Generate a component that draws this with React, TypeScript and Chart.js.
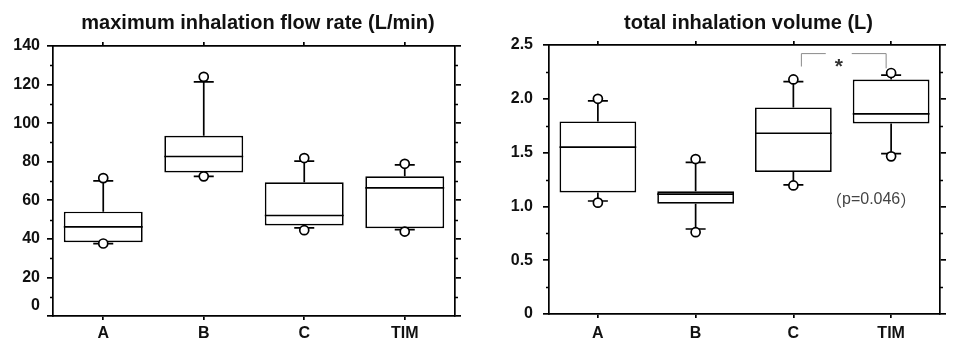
import React, { useEffect, useRef } from 'react';
import { Chart, registerables } from 'chart.js';

Chart.register(...registerables);

// ---------------- data ----------------
const CATEGORIES = ['A', 'B', 'C', 'TIM'];

// left panel: maximum inhalation flow rate
const FLOW_TITLE = 'maximum inhalation flow rate (L/min)';
const FLOW_TICKS = [0, 20, 40, 60, 80, 100, 120, 140];
const FLOW_TICK_LABELS = ['0', '20', '40', '60', '80', '100', '120', '140'];
const FLOW_MINOR_TICKS = [10, 30, 50, 70, 90, 110, 130];
const FLOW_MAX_POINT = [71.5, 124.0, 81.9, 78.9];
const FLOW_WHISKER_HIGH = [70.1, 121.4, 80.3, 78.4];
const FLOW_Q3 = [54.1, 93.4, 69.3, 72.4];
const FLOW_MEDIAN = [46.2, 82.7, 52.1, 66.4];
const FLOW_Q1 = [38.3, 74.4, 46.9, 45.5];
const FLOW_WHISKER_LOW = [37.5, 72.4, 45.7, 44.8];
const FLOW_MIN_POINT = [37.6, 72.4, 44.5, 43.8];

// right panel: total inhalation volume
const VOL_TITLE = 'total inhalation volume (L)';
const VOL_TICKS = [0, 0.5, 1.0, 1.5, 2.0, 2.5];
const VOL_TICK_LABELS = ['0', '0.5', '1.0', '1.5', '2.0', '2.5'];
const VOL_MINOR_TICKS = [0.25, 0.75, 1.25, 1.75, 2.25];
const VOL_MAX_POINT = [2.0, 1.44, 2.18, 2.24];
const VOL_WHISKER_HIGH = [1.98, 1.41, 2.16, 2.22];
const VOL_Q3 = [1.79, 1.14, 1.92, 2.18];
const VOL_MEDIAN = [1.55, 1.115, 1.68, 1.86];
const VOL_Q1 = [1.13, 1.025, 1.32, 1.77];
const VOL_WHISKER_LOW = [1.05, 0.79, 1.2, 1.49];
const VOL_MIN_POINT = [1.035, 0.76, 1.195, 1.465];

// significance annotation (right panel)
const SIG_FROM = 'C';
const SIG_TO = 'TIM';
const SIG_TOP = 2.42;
const SIG_LEG_LEFT = 2.3;
const SIG_LEG_RIGHT = 2.283;
const SIG_MARK = '*';
const P_OPEN = '（';
const P_BODY = 'p=0.046';
const P_CLOSE = '）';
const P_NOTE_VALUE = 1.06;

// ---------------- style ----------------
const FONT = '"Liberation Sans", Arial, Helvetica, sans-serif';
const NOTE_FONT = `16px ${FONT}`;
const PAREN_FONT = '16px "Noto Sans CJK JP", "Noto Sans CJK SC", sans-serif';
const INK = '#111';
const LINE_W = 1.7;
const MAJOR_TICK = 6;
const MINOR_TICK = 3;
const X_TICK = 4;
const CAP_HALF = 10;
const HEIGHT = 355;

interface Spec {
  title: string;
  ticks: number[];
  tickLabels: string[];
  minorTicks: number[];
  maxPt: number[];
  whiskerHigh: number[];
  q3: number[];
  median: number[];
  q1: number[];
  whiskerLow: number[];
  minPt: number[];
  bracket?: boolean;
}

interface Layout {
  left: number;
  width: number;
  axisLeft: number;
  axisRight: number;
  axisTop: number;
  axisBottom: number;
  yPad: number;
  xPad: number;
  zeroLift: number;
  titleBase: number;
}

const FLOW_SPEC: Spec = {
  title: FLOW_TITLE,
  ticks: FLOW_TICKS,
  tickLabels: FLOW_TICK_LABELS,
  minorTicks: FLOW_MINOR_TICKS,
  maxPt: FLOW_MAX_POINT,
  whiskerHigh: FLOW_WHISKER_HIGH,
  q3: FLOW_Q3,
  median: FLOW_MEDIAN,
  q1: FLOW_Q1,
  whiskerLow: FLOW_WHISKER_LOW,
  minPt: FLOW_MIN_POINT,
};

const VOL_SPEC: Spec = {
  title: VOL_TITLE,
  ticks: VOL_TICKS,
  tickLabels: VOL_TICK_LABELS,
  minorTicks: VOL_MINOR_TICKS,
  maxPt: VOL_MAX_POINT,
  whiskerHigh: VOL_WHISKER_HIGH,
  q3: VOL_Q3,
  median: VOL_MEDIAN,
  q1: VOL_Q1,
  whiskerLow: VOL_WHISKER_LOW,
  minPt: VOL_MIN_POINT,
  bracket: true,
};

const FLOW_LAYOUT: Layout = {
  left: 0, width: 483, axisLeft: 53, axisRight: 28, axisTop: 46, axisBottom: 39,
  yPad: 7, xPad: 4, zeroLift: 10, titleBase: 28.5,
};
const VOL_LAYOUT: Layout = {
  left: 483, width: 484, axisLeft: 66, axisRight: 27, axisTop: 45, axisBottom: 41,
  yPad: 10, xPad: 6, zeroLift: 0, titleBase: 29,
};

function makeDecor(spec: Spec, layout: Layout) {
  return {
    id: 'boxDecor',
    beforeDatasetsDraw(chart: any) {
      const { ctx } = chart;
      const xs = chart.scales.x;
      const ys = chart.scales.y;
      ctx.save();
      ctx.strokeStyle = '#000';
      ctx.lineWidth = LINE_W;
      CATEGORIES.forEach((_, i) => {
        const px = xs.getPixelForValue(i);
        const pairs = [
          [spec.q3[i], spec.whiskerHigh[i]],
          [spec.q1[i], spec.whiskerLow[i]],
        ];
        pairs.forEach(([from, to]) => {
          const a = ys.getPixelForValue(from);
          const b = ys.getPixelForValue(to);
          ctx.beginPath();
          ctx.moveTo(px, a);
          ctx.lineTo(px, b);
          ctx.moveTo(px - CAP_HALF, b);
          ctx.lineTo(px + CAP_HALF, b);
          ctx.stroke();
        });
      });
      ctx.restore();
    },
    afterDatasetDraw(chart: any, args: any) {
      if (args.meta.type !== 'bar') return;
      const { ctx } = chart;
      const ys = chart.scales.y;
      ctx.save();
      ctx.strokeStyle = '#000';
      ctx.lineWidth = LINE_W;
      args.meta.data.forEach((el: any, i: number) => {
        const p = el.getProps(['x', 'width'], true);
        const py = ys.getPixelForValue(spec.median[i]);
        ctx.beginPath();
        ctx.moveTo(p.x - p.width / 2, py);
        ctx.lineTo(p.x + p.width / 2, py);
        ctx.stroke();
      });
      ctx.restore();
    },
    afterDraw(chart: any) {
      const { ctx, chartArea } = chart;
      const xs = chart.scales.x;
      const ys = chart.scales.y;
      ctx.save();
      // minor ticks on both vertical borders
      ctx.strokeStyle = '#000';
      ctx.lineWidth = LINE_W;
      spec.minorTicks.forEach((v) => {
        const py = Math.round(ys.getPixelForValue(v)) + 0.5;
        ctx.beginPath();
        ctx.moveTo(chartArea.left - MINOR_TICK, py);
        ctx.lineTo(chartArea.left, py);
        ctx.moveTo(chartArea.right, py);
        ctx.lineTo(chartArea.right + MINOR_TICK, py);
        ctx.stroke();
      });
      // title
      ctx.fillStyle = INK;
      ctx.font = `bold 20px ${FONT}`;
      ctx.textAlign = 'center';
      ctx.textBaseline = 'alphabetic';
      ctx.fillText(spec.title, (chartArea.left + chartArea.right) / 2 + 4, layout.titleBase);
      // lifted zero label
      if (layout.zeroLift > 0) {
        ctx.font = `bold 16px ${FONT}`;
        ctx.textAlign = 'right';
        ctx.textBaseline = 'middle';
        ctx.fillText(
          spec.tickLabels[spec.ticks.indexOf(0)],
          chartArea.left - MAJOR_TICK - layout.yPad,
          ys.getPixelForValue(0) - layout.zeroLift,
        );
      }
      // significance bracket and p-value
      if (spec.bracket) {
        const xa = xs.getPixelForValue(CATEGORIES.indexOf(SIG_FROM)) + 8;
        const xb = xs.getPixelForValue(CATEGORIES.indexOf(SIG_TO)) - 5;
        const yt = ys.getPixelForValue(SIG_TOP);
        const yl = ys.getPixelForValue(SIG_LEG_LEFT);
        const yr = ys.getPixelForValue(SIG_LEG_RIGHT);
        const gc = (xa + xb) / 2 - 5;
        ctx.strokeStyle = '#8a8a8a';
        ctx.lineWidth = 1;
        ctx.beginPath();
        ctx.moveTo(xa, yl);
        ctx.lineTo(xa, yt);
        ctx.lineTo(gc - 13, yt);
        ctx.moveTo(gc + 13, yt);
        ctx.lineTo(xb, yt);
        ctx.lineTo(xb, yr);
        ctx.stroke();
        ctx.fillStyle = '#333';
        ctx.font = `bold 21px ${FONT}`;
        ctx.textAlign = 'center';
        ctx.textBaseline = 'alphabetic';
        ctx.fillText(SIG_MARK, gc, yt + 19.5);
        // p-value note: full-width parentheses around the value
        ctx.fillStyle = '#444';
        ctx.textBaseline = 'middle';
        ctx.textAlign = 'left';
        ctx.font = PAREN_FONT;
        const wo = ctx.measureText(P_OPEN).width;
        const wc = ctx.measureText(P_CLOSE).width;
        ctx.font = NOTE_FONT;
        const wb = ctx.measureText(P_BODY).width;
        const cx = xs.getPixelForValue(CATEGORIES.indexOf(SIG_TO)) - 20;
        const cy = ys.getPixelForValue(P_NOTE_VALUE);
        let x0 = cx - (wo + wb + wc) / 2;
        ctx.font = PAREN_FONT;
        ctx.fillText(P_OPEN, x0, cy);
        x0 += wo;
        ctx.font = NOTE_FONT;
        ctx.fillText(P_BODY, x0, cy);
        x0 += wb;
        ctx.font = PAREN_FONT;
        ctx.fillText(P_CLOSE, x0, cy);
      }
      ctx.restore();
    },
  };
}

function buildConfig(spec: Spec, layout: Layout): any {
  const yMin = spec.ticks[0];
  const yMax = spec.ticks[spec.ticks.length - 1];
  const gridX = {
    drawOnChartArea: false,
    drawTicks: true,
    tickLength: X_TICK,
    color: '#000',
    tickColor: '#000',
    lineWidth: LINE_W,
    tickWidth: LINE_W,
    offset: false,
  };
  const gridY = { ...gridX, tickLength: MAJOR_TICK };
  const border = { display: true, color: '#000', width: LINE_W };
  const setTicks = (s: any) => {
    s.ticks = spec.ticks.map((v) => ({ value: v }));
  };
  const circle = {
    type: 'line',
    showLine: false,
    pointRadius: 4.5,
    pointHoverRadius: 4.5,
    pointBackgroundColor: '#fff',
    pointBorderColor: '#000',
    pointBorderWidth: LINE_W,
    order: 0,
    xAxisID: 'x',
    yAxisID: 'y',
  };
  return {
    type: 'bar',
    data: {
      labels: CATEGORIES,
      datasets: [
        { ...circle, label: 'max', data: spec.maxPt },
        { ...circle, label: 'min', data: spec.minPt },
        {
          type: 'bar',
          label: 'IQR',
          data: spec.q1.map((v, i) => [v, spec.q3[i]]),
          backgroundColor: '#fff',
          borderColor: '#000',
          borderWidth: LINE_W,
          borderSkipped: false,
          barPercentage: 0.785,
          categoryPercentage: 1,
          order: 1,
          xAxisID: 'x',
          yAxisID: 'y',
        },
      ],
    },
    options: {
      responsive: false,
      animation: false,
      events: [],
      devicePixelRatio: 1,
      layout: { padding: 0 },
      plugins: { legend: { display: false }, tooltip: { enabled: false }, title: { display: false } },
      scales: {
        x: {
          type: 'category',
          position: 'bottom',
          offset: true,
          grid: gridX,
          border,
          ticks: {
            color: INK,
            font: { family: FONT, size: 16, weight: 'bold' },
            padding: layout.xPad,
            maxRotation: 0,
            autoSkip: false,
          },
          afterFit: (s: any) => { s.height = layout.axisBottom; },
        },
        xTop: {
          type: 'category',
          position: 'top',
          offset: true,
          grid: gridX,
          border,
          ticks: { display: false },
          afterFit: (s: any) => { s.height = layout.axisTop; },
        },
        y: {
          type: 'linear',
          position: 'left',
          min: yMin,
          max: yMax,
          afterBuildTicks: setTicks,
          grid: gridY,
          border,
          ticks: {
            color: INK,
            font: { family: FONT, size: 16, weight: 'bold' },
            padding: layout.yPad,
            callback: (v: number) => {
              if (layout.zeroLift > 0 && v === 0) return '';
              const k = spec.ticks.indexOf(v);
              return k >= 0 ? spec.tickLabels[k] : '';
            },
          },
          afterFit: (s: any) => { s.width = layout.axisLeft; },
        },
        yR: {
          type: 'linear',
          position: 'right',
          min: yMin,
          max: yMax,
          afterBuildTicks: setTicks,
          grid: gridY,
          border,
          ticks: { display: false },
          afterFit: (s: any) => { s.width = layout.axisRight; },
        },
      },
    },
    plugins: [makeDecor(spec, layout)],
  };
}

function BoxPanel({ spec, layout }: { spec: Spec; layout: Layout }) {
  const ref = useRef<HTMLCanvasElement>(null);
  useEffect(() => {
    const chart = new Chart(ref.current as HTMLCanvasElement, buildConfig(spec, layout));
    return () => chart.destroy();
  }, [spec, layout]);
  return (
    <canvas
      ref={ref}
      width={layout.width}
      height={HEIGHT}
      style={{ position: 'absolute', left: layout.left, top: 0, width: layout.width, height: HEIGHT, display: 'block' }}
    />
  );
}

export default function App() {
  return (
    <div style={{ position: 'fixed', left: 0, top: 0, width: 967, height: HEIGHT, background: '#fff', overflow: 'hidden' }}>
      <BoxPanel spec={FLOW_SPEC} layout={FLOW_LAYOUT} />
      <BoxPanel spec={VOL_SPEC} layout={VOL_LAYOUT} />
    </div>
  );
}
